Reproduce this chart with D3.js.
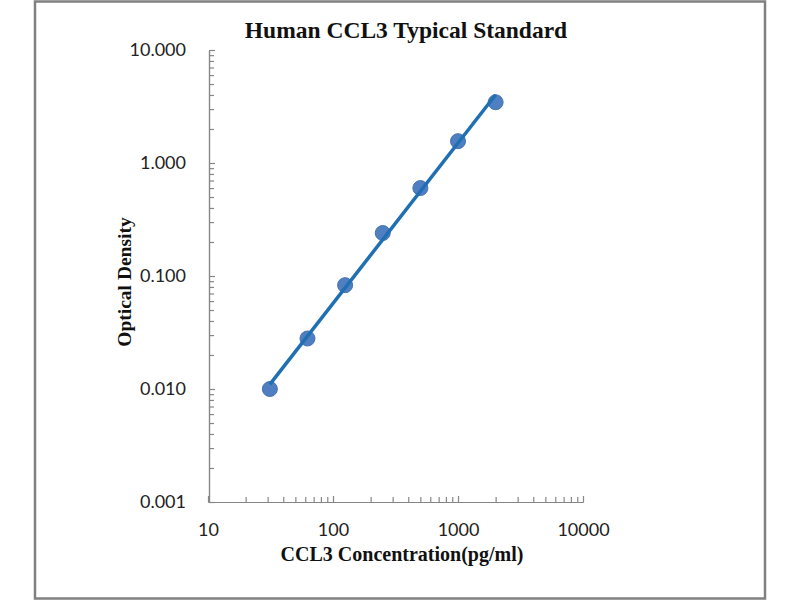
<!DOCTYPE html>
<html>
<head>
<meta charset="utf-8">
<script src="https://cdn.jsdelivr.net/npm/d3@7"></script>
<style>
  body { margin: 0; background: #fff; }
</style>
</head>
<body>
<script>
// standard curve readings
var concentrations = [31.25, 62.5, 125, 250, 500, 1000, 2000];
var odValues = [0.010, 0.028, 0.083, 0.240, 0.600, 1.560, 3.450];

var xTickValues = [10, 100, 1000, 10000];
var yTickValues = [0.001, 0.01, 0.1, 1, 10];

var titleText = "Human CCL3 Typical Standard";
var xLabel = "CCL3 Concentration(pg/ml)";
var yLabel = "Optical Density";

var w = 800;
var h = 600;
var axisColor = "#868686";

var svg = d3.select("body").append("svg").attr("width", w).attr("height", h);

// outer frame
svg.append("rect")
  .attr("x", 35).attr("y", 1.5)
  .attr("width", 730).attr("height", 597)
  .attr("fill", "#fff")
  .attr("stroke", "#808080")
  .attr("stroke-width", 2.5);

var xScale = d3.scaleLog().domain([10, 10000]).range([208, 583]);
var yScale = d3.scaleLog().domain([0.001, 10]).range([502, 50]);

// minor ticks (inside), each axis in its own group
var xMinor = xScale.ticks().filter(function (d) { return xTickValues.indexOf(d) < 0; });
var yMinor = yScale.ticks().filter(function (d) { return yTickValues.indexOf(d) < 0; });

svg.append("g").attr("transform", "translate(0,502)")
  .call(d3.axisBottom(xScale).tickValues(xMinor).tickFormat("").tickSizeInner(-5).tickSizeOuter(0));
svg.append("g").attr("transform", "translate(0,502)")
  .call(d3.axisBottom(xScale).tickValues(xTickValues)
    .tickFormat(d3.format("d")).tickSizeInner(-6).tickSizeOuter(0).tickPadding(21));

svg.append("g").attr("transform", "translate(209,0)")
  .call(d3.axisLeft(yScale).tickValues(yMinor).tickFormat("").tickSizeInner(-5).tickSizeOuter(0));
svg.append("g").attr("transform", "translate(209,0)")
  .call(d3.axisLeft(yScale).tickValues(yTickValues)
    .tickFormat(d3.format(".3f")).tickSizeInner(-6).tickSizeOuter(0).tickPadding(23));

svg.selectAll(".domain, .tick line").attr("stroke", axisColor).attr("stroke-width", 1.2);
svg.selectAll(".tick text")
  .attr("font-family", "Lato, 'Open Sans', sans-serif")
  .attr("font-size", 18)
  .attr("fill", "#222");

// markers
svg.selectAll("circle.pt")
  .data(concentrations)
  .enter()
  .append("circle")
  .attr("class", "pt")
  .attr("cx", function (d) { return xScale(d); })
  .attr("cy", function (d, i) { return yScale(odValues[i]); })
  .attr("r", 7.5)
  .attr("fill", "#4f7fc0")
  .attr("stroke", "#4472b4")
  .attr("stroke-width", 1);

// power trendline (least squares on log-log)
var lx = concentrations.map(Math.log10);
var ly = odValues.map(Math.log10);
var mx = d3.mean(lx), my = d3.mean(ly);
var sxy = d3.sum(lx, function (d, i) { return (d - mx) * (ly[i] - my); });
var sxx = d3.sum(lx, function (d) { return (d - mx) * (d - mx); });
var slope = sxy / sxx;
var intercept = my - slope * mx;
var fitEnds = d3.extent(concentrations);

var line = d3.line()
  .x(function (d) { return xScale(d); })
  .y(function (d) { return yScale(Math.pow(10, intercept + slope * Math.log10(d))); });

svg.append("path")
  .datum(fitEnds)
  .attr("d", line)
  .attr("fill", "none")
  .attr("stroke", "#1f6fb2")
  .attr("stroke-width", 3.5);

// titles
svg.append("text")
  .attr("x", 406).attr("y", 38)
  .attr("text-anchor", "middle")
  .attr("font-family", "'Liberation Serif', 'Times New Roman', serif")
  .attr("font-weight", "bold")
  .attr("font-size", 23.5)
  .attr("fill", "#111")
  .text(titleText);

svg.append("text")
  .attr("x", 402).attr("y", 561)
  .attr("text-anchor", "middle")
  .attr("font-family", "'Liberation Serif', 'Times New Roman', serif")
  .attr("font-weight", "bold")
  .attr("font-size", 20)
  .attr("fill", "#111")
  .text(xLabel);

svg.append("text")
  .attr("transform", "translate(131,282) rotate(-90)")
  .attr("text-anchor", "middle")
  .attr("font-family", "'Liberation Serif', 'Times New Roman', serif")
  .attr("font-weight", "bold")
  .attr("font-size", 19.5)
  .attr("fill", "#111")
  .text(yLabel);
</script>
</body>
</html>
